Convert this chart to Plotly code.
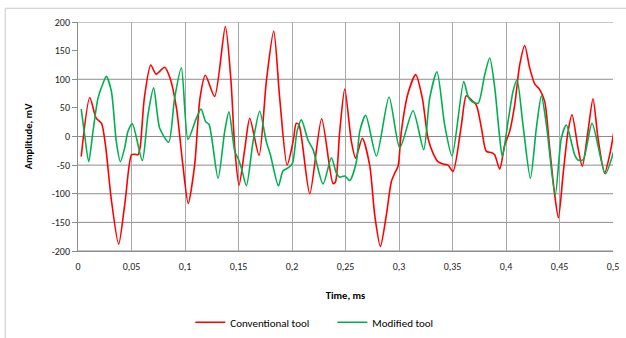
import plotly.graph_objects as go

red_t = [0.003, 0.011, 0.017, 0.022, 0.026, 0.031, 0.038, 0.044, 0.050, 0.053, 0.056, 0.058, 0.062, 0.068, 0.073, 0.081, 0.086, 0.092, 0.098, 0.103, 0.109, 0.114, 0.119, 0.1277, 0.1377, 0.143, 0.1465, 0.1505, 0.156, 0.1605, 0.1692, 0.176, 0.1829, 0.1885, 0.1954, 0.201, 0.204, 0.2066, 0.2166, 0.2277, 0.2383, 0.2405, 0.2446, 0.2493, 0.2555, 0.2595, 0.2657, 0.2726, 0.2773, 0.2826, 0.2882, 0.2928, 0.296, 0.2991, 0.3022, 0.3085, 0.3156, 0.3218, 0.3271, 0.3318, 0.3364, 0.3411, 0.3458, 0.3505, 0.3583, 0.3629, 0.3676, 0.3723, 0.377, 0.3816, 0.3863, 0.3894, 0.3941, 0.3988, 0.4034, 0.4081, 0.4128, 0.4175, 0.4221, 0.4268, 0.4315, 0.4362, 0.4408, 0.4455, 0.449, 0.4533, 0.458, 0.4617, 0.4673, 0.4713, 0.4766, 0.4813, 0.486, 0.4922, 0.4969, 0.5009]
red_v = [-35, 68, 32, 23, -20, -108, -188, -114, -32, -31, -32, -20, 67, 125, 109, 121, 102, 50, -50, -117, -50, 67, 107, 70, 192, 96, -20, -85, -20, 32, -33, 96, 184, 67, -50, -9, 23, 20, -100, 31, -82, -80, 9, 83, -9, -38, -3, -50, -137, -192, -137, -79, -64, -52, 9, 76, 108, 67, -3, -29, -44, -48, -50, -61, 20, 71, 64, 55, 15, -26, -28, -32, -57, -15, 9, 55, 125, 159, 120, 92, 82, 61, -20, -102, -142, -67, 9, 38, -20, -52, 9, 66, -3, -64, -32, 9]

green_t = [0.003, 0.0062, 0.010, 0.014, 0.0187, 0.0234, 0.0265, 0.0312, 0.0358, 0.0396, 0.0436, 0.0467, 0.0508, 0.0601, 0.0654, 0.0707, 0.0763, 0.0847, 0.0903, 0.0966, 0.1028, 0.1106, 0.1150, 0.1193, 0.1225, 0.1309, 0.1371, 0.1411, 0.1465, 0.1496, 0.1527, 0.1574, 0.1636, 0.1698, 0.176, 0.1798, 0.1873, 0.1916, 0.1963, 0.2004, 0.2047, 0.2088, 0.2149, 0.2197, 0.2290, 0.2368, 0.2415, 0.2446, 0.2493, 0.254, 0.2602, 0.2633, 0.2689, 0.2789, 0.2907, 0.3007, 0.3131, 0.3231, 0.3287, 0.3355, 0.3427, 0.3496, 0.3605, 0.3645, 0.3676, 0.3739, 0.3801, 0.3848, 0.3895, 0.3935, 0.3966, 0.4019, 0.4066, 0.4103, 0.4159, 0.4228, 0.4284, 0.4331, 0.4378, 0.446, 0.4517, 0.4564, 0.4642, 0.4673, 0.472, 0.4804, 0.4928, 0.5006]
green_v = [48, 3, -44, 9, 67, 93, 105, 79, -9, -44, -20, 9, 22, -42, 38, 85, 15, -10, 67, 120, -5, 32, 48, 26, 21, -73, 9, 43, -26, -38, -55, -86, -9, 44, -9, -32, -86, -60, -55, -47, 9, 29, -6, -23, -83, -37, -64, -71, -69, -77, -44, 9, 37, -34, 69, -20, 45, -23, 67, 113, 20, -34, 96, 70, 62, 58, 108, 137, 85, 9, -35, 26, 79, 99, 20, -73, 15, 71, 20, -102, -3, 20, -32, -41, -41, 23, -65, -26]

x_ticks = [0, 0.05, 0.1, 0.15, 0.2, 0.25, 0.3, 0.35, 0.4, 0.45, 0.5]
x_labels = ["0", "0,05", "0,1", "0,15", "0,2", "0,25", "0,3", "0,35", "0,4", "0,45", "0,5"]
y_ticks = [200, 150, 100, 50, 0, -50, -100, -150, -200]
y_labels = ["200", "150", "100", "50", "0", "-50", "-100", "-150", "-200"]
y_grid = [200, 100, 0, -50, -100, -150, -200]

FONT = "Carlito, Lato, 'Liberation Sans', sans-serif"

fig = go.Figure()
fig.add_trace(go.Scatter(x=red_t, y=red_v, mode="lines", name="Conventional tool",
                         line=dict(color="#FF0000", width=1.6, shape="spline", smoothing=0.7)))
fig.add_trace(go.Scatter(x=green_t, y=green_v, mode="lines", name="Modified tool",
                         line=dict(color="#00B050", width=1.6, shape="spline", smoothing=0.7)))

shapes = []
for g in y_grid:
    shapes.append(dict(type="line", xref="paper", yref="y", x0=0, x1=1, y0=g, y1=g,
                       line=dict(color="#8c8c8c", width=1), layer="below"))
# outer chart border (left/top visible)
shapes.append(dict(type="rect", xref="paper", yref="paper", x0=-0.136, x1=1.05, y0=-0.45, y1=1.06,
                   line=dict(color="#c8c8c8", width=1), layer="below"))

fig.update_layout(
    width=626, height=338,
    margin=dict(l=78, r=13, t=22, b=87, autoexpand=False),
    paper_bgcolor="white", plot_bgcolor="white",
    font=dict(family=FONT, size=10, color="#000000"),
    showlegend=True,
    legend=dict(orientation="h", x=0.21, xanchor="left", y=-0.311, yanchor="middle",
                font=dict(size=11), entrywidth=97, entrywidthmode="pixels", tracegroupgap=0),
    shapes=shapes,
    xaxis=dict(range=[0, 0.5], tickvals=x_ticks, ticktext=x_labels, showgrid=True,
               gridcolor="#a6a6a6", gridwidth=1, showline=True, linecolor="#8c8c8c",
               ticks="outside", ticklen=6, tickcolor="rgba(0,0,0,0)", zeroline=False,
               tickfont=dict(size=10, color="#222"),
               title=dict(text="<b>Time, ms</b>", font=dict(size=10.5), standoff=19)),
    yaxis=dict(range=[-200, 200], tickvals=y_ticks, ticktext=y_labels, showgrid=False,
               showline=True, linecolor="#8c8c8c", ticks="outside", ticklen=5,
               tickcolor="#8c8c8c", zeroline=False, tickfont=dict(size=10, color="#222"),
               title=dict(text="<b>Amplitude, mV</b>", font=dict(size=10.5), standoff=17)),
)

fig.write_html("out.html", config={"displayModeBar": False},
               post_script="document.body.style.margin='0px';")
